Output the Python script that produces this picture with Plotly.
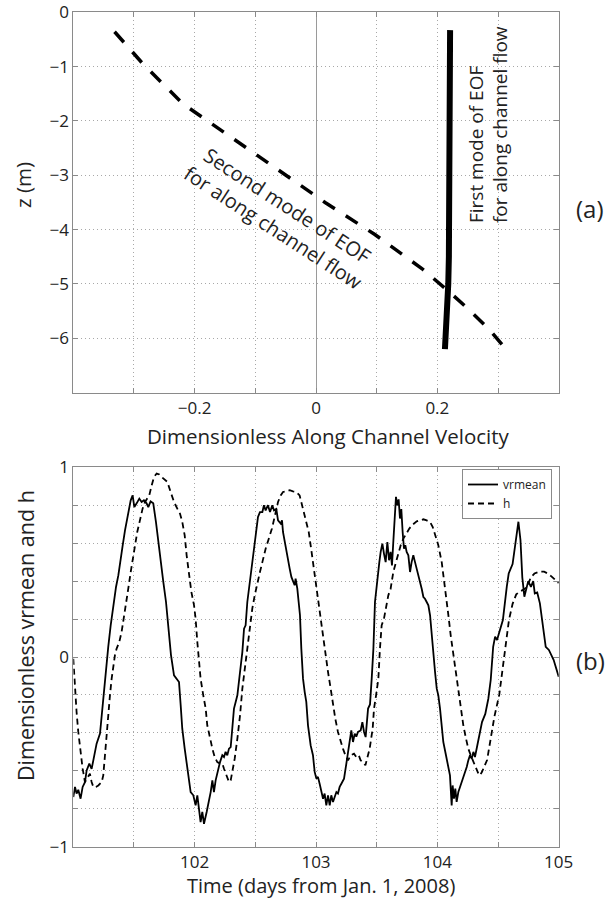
import plotly.graph_objects as go

# ---------------- data: panel (a) EOF modes ----------------
mode1_x = [0.221, 0.221, 0.2205, 0.2200, 0.2195, 0.2190, 0.2180, 0.2160, 0.2135, 0.2125]
mode1_z = [-0.33, -1.0, -2.0, -3.0, -4.0, -4.5, -5.0, -5.5, -6.0, -6.2]

mode2_x = [-0.332, -0.286, -0.220, -0.143, -0.063, 0.015, 0.097, 0.175, 0.215, 0.250, 0.285, 0.311]
mode2_z = [-0.36, -0.94, -1.68, -2.28, -2.90, -3.50, -4.09, -4.72, -5.10, -5.45, -5.83, -6.17]

# ---------------- data: panel (b) time series ----------------
vr_t = [101.000, 101.014, 101.027, 101.041, 101.060, 101.077, 101.096, 101.110, 101.132, 101.151,
        101.165, 101.179, 101.192, 101.220, 101.234, 101.247, 101.269, 101.288, 101.308, 101.330,
        101.352, 101.371, 101.385, 101.407, 101.426, 101.453, 101.473, 101.489, 101.503, 101.522,
        101.544, 101.563, 101.582, 101.604, 101.618, 101.637, 101.659, 101.681, 101.701, 101.720,
        101.742, 101.764, 101.783, 101.805, 101.830, 101.852, 101.871, 101.885, 101.898, 101.918,
        101.940, 101.953, 101.967, 101.989, 102.008, 102.022, 102.036, 102.049, 102.063, 102.077,
        102.099, 102.118, 102.132, 102.146, 102.159, 102.173, 102.187, 102.209, 102.228, 102.242,
        102.255, 102.269, 102.283, 102.297, 102.310, 102.324, 102.338, 102.352, 102.374, 102.393,
        102.407, 102.420, 102.434, 102.448, 102.467, 102.484, 102.503, 102.522, 102.538, 102.558,
        102.571, 102.585, 102.604, 102.621, 102.640, 102.654, 102.673, 102.687, 102.709, 102.720,
        102.728, 102.742, 102.755, 102.769, 102.783, 102.797, 102.810, 102.824, 102.832, 102.846,
        102.857, 102.868, 102.879, 102.893, 102.907, 102.920, 102.934, 102.956, 102.975, 102.989,
        103.003, 103.016, 103.030, 103.044, 103.058, 103.071, 103.085, 103.099, 103.113, 103.126,
        103.140, 103.154, 103.168, 103.181, 103.195, 103.209, 103.231, 103.250, 103.264, 103.277,
        103.291, 103.305, 103.319, 103.332, 103.346, 103.368, 103.382, 103.396, 103.409, 103.429,
        103.445, 103.459, 103.473, 103.486, 103.505, 103.522, 103.533, 103.547, 103.560, 103.574,
        103.588, 103.602, 103.615, 103.626, 103.637, 103.648, 103.659, 103.670, 103.681, 103.692,
        103.703, 103.714, 103.725, 103.736, 103.747, 103.761, 103.775, 103.788, 103.802, 103.816,
        103.830, 103.843, 103.857, 103.871, 103.885, 103.898, 103.912, 103.926, 103.940, 103.953,
        103.967, 103.981, 103.995, 104.008, 104.022, 104.036, 104.049, 104.071, 104.091, 104.104,
        104.118, 104.126, 104.137, 104.148, 104.159, 104.173, 104.187, 104.201, 104.214, 104.228,
        104.242, 104.255, 104.269, 104.283, 104.297, 104.310, 104.324, 104.338, 104.352, 104.368,
        104.395, 104.420, 104.440, 104.460, 104.476, 104.492, 104.508, 104.540, 104.572, 104.588,
        104.620, 104.652, 104.668, 104.685, 104.700, 104.717, 104.733, 104.749, 104.771, 104.790,
        104.803, 104.823, 104.845, 104.861, 104.877, 104.893, 104.919, 104.942, 104.958, 105.000]
vr_v = [-0.738, -0.685, -0.720, -0.700, -0.747, -0.685, -0.660, -0.598, -0.562, -0.590,
        -0.545, -0.500, -0.457, -0.404, -0.308, -0.202, -0.060, 0.053, 0.167, 0.272,
        0.369, 0.430, 0.500, 0.589, 0.668, 0.764, 0.826, 0.852, 0.790, 0.810,
        0.835, 0.817, 0.826, 0.810, 0.790, 0.820, 0.810, 0.712, 0.606, 0.483,
        0.395, 0.290, 0.167, 0.010, -0.097, -0.114, -0.132, -0.255, -0.378, -0.483,
        -0.589, -0.668, -0.712, -0.729, -0.782, -0.729, -0.800, -0.870, -0.817, -0.879,
        -0.817, -0.764, -0.712, -0.650, -0.712, -0.650, -0.606, -0.554, -0.518, -0.527,
        -0.500, -0.518, -0.483, -0.475, -0.378, -0.272, -0.237, -0.202, -0.079, 0.026,
        0.149, 0.167, 0.290, 0.360, 0.466, 0.554, 0.641, 0.738, 0.764, 0.764,
        0.800, 0.773, 0.800, 0.764, 0.800, 0.773, 0.780, 0.720, 0.703, 0.720,
        0.659, 0.606, 0.571, 0.518, 0.466, 0.422, 0.404, 0.378, 0.413, 0.360,
        0.290, 0.220, 0.044, -0.114, -0.185, -0.237, -0.360, -0.466, -0.518, -0.606,
        -0.641, -0.632, -0.668, -0.712, -0.747, -0.720, -0.782, -0.729, -0.782, -0.729,
        -0.764, -0.738, -0.712, -0.720, -0.685, -0.668, -0.641, -0.562, -0.500, -0.430,
        -0.387, -0.448, -0.404, -0.420, -0.395, -0.387, -0.343, -0.395, -0.422, -0.272,
        -0.250, -0.114, 0.044, 0.290, 0.413, 0.500, 0.554, 0.598, 0.545, 0.500,
        0.606, 0.510, 0.554, 0.483, 0.606, 0.747, 0.844, 0.800, 0.831, 0.730,
        0.780, 0.659, 0.571, 0.589, 0.554, 0.536, 0.448, 0.500, 0.536, 0.500,
        0.466, 0.430, 0.395, 0.360, 0.316, 0.307, 0.290, 0.272, 0.220, 0.114,
        0.009, -0.079, -0.167, -0.202, -0.272, -0.378, -0.448, -0.518, -0.589, -0.624,
        -0.782, -0.677, -0.747, -0.694, -0.764, -0.712, -0.685, -0.659, -0.641, -0.615,
        -0.580, -0.545, -0.518, -0.536, -0.500, -0.527, -0.483, -0.430, -0.378, -0.343,
        -0.300, -0.220, -0.120, 0.054, 0.107, 0.090, 0.125, 0.195, 0.370, 0.440,
        0.490, 0.634, 0.713, 0.617, 0.420, 0.318, 0.353, 0.400, 0.370, 0.400,
        0.335, 0.340, 0.283, 0.213, 0.142, 0.054, 0.037, 0.002, -0.015, -0.104]

h_t = [101.000, 101.014, 101.027, 101.041, 101.060, 101.077, 101.096, 101.115, 101.137, 101.151,
       101.165, 101.187, 101.206, 101.234, 101.247, 101.261, 101.275, 101.288, 101.302, 101.316,
       101.330, 101.343, 101.357, 101.379, 101.398, 101.412, 101.434, 101.453, 101.473, 101.489,
       101.508, 101.527, 101.549, 101.571, 101.591, 101.610, 101.626, 101.646, 101.665, 101.687,
       101.709, 101.728, 101.775, 101.802, 101.830, 101.857, 101.879, 101.898, 101.918, 101.934,
       101.953, 101.973, 101.995, 102.008, 102.022, 102.036, 102.049, 102.071, 102.091, 102.104,
       102.126, 102.146, 102.165, 102.187, 102.209, 102.228, 102.242, 102.264, 102.283, 102.297,
       102.310, 102.330, 102.352, 102.374, 102.393, 102.412, 102.434, 102.456, 102.475, 102.495,
       102.516, 102.538, 102.558, 102.585, 102.637, 102.659, 102.687, 102.709, 102.728, 102.755,
       102.783, 102.810, 102.838, 102.865, 102.893, 102.920, 102.940, 102.956, 102.975, 102.995,
       103.016, 103.038, 103.058, 103.077, 103.099, 103.121, 103.140, 103.159, 103.181, 103.203,
       103.222, 103.242, 103.264, 103.286, 103.313, 103.332, 103.352, 103.368, 103.387, 103.407,
       103.429, 103.442, 103.467, 103.478, 103.495, 103.514, 103.527, 103.541, 103.560, 103.577,
       103.596, 103.615, 103.637, 103.659, 103.679, 103.698, 103.720, 103.742, 103.769, 103.797,
       103.830, 103.857, 103.885, 103.912, 103.940, 103.962, 103.981, 104.008, 104.036, 104.055,
       104.071, 104.091, 104.110, 104.132, 104.154, 104.173, 104.192, 104.214, 104.236, 104.255,
       104.275, 104.297, 104.319, 104.338, 104.352, 104.368, 104.410, 104.440, 104.470, 104.510,
       104.530, 104.550, 104.570, 104.590, 104.620, 104.650, 104.680, 104.710, 104.740, 104.770,
       104.800, 104.840, 104.880, 104.910, 104.940, 104.970, 105.000]
h_v = [-0.009, -0.167, -0.290, -0.395, -0.500, -0.589, -0.659, -0.641, -0.615, -0.659,
       -0.685, -0.685, -0.677, -0.659, -0.624, -0.518, -0.395, -0.308, -0.202, -0.114,
       -0.044, 0.009, 0.044, 0.079, 0.132, 0.185, 0.272, 0.360, 0.448, 0.518,
       0.589, 0.659, 0.720, 0.782, 0.817, 0.835, 0.852, 0.905, 0.949, 0.967,
       0.962, 0.949, 0.923, 0.870, 0.817, 0.782, 0.756, 0.712, 0.641, 0.536,
       0.430, 0.343, 0.272, 0.202, 0.079, -0.026, -0.114, -0.202, -0.272, -0.360,
       -0.430, -0.483, -0.527, -0.554, -0.562, -0.562, -0.589, -0.633, -0.659, -0.650,
       -0.606, -0.536, -0.430, -0.308, -0.167, -0.062, 0.044, 0.167, 0.255, 0.325,
       0.395, 0.448, 0.500, 0.571, 0.677, 0.747, 0.817, 0.852, 0.870, 0.873,
       0.879, 0.873, 0.870, 0.852, 0.782, 0.712, 0.659, 0.589, 0.500, 0.395,
       0.290, 0.185, 0.097, 0.009, -0.079, -0.167, -0.255, -0.325, -0.395, -0.448,
       -0.483, -0.518, -0.545, -0.518, -0.510, -0.527, -0.518, -0.545, -0.554, -0.571,
       -0.518, -0.483, -0.378, -0.272, -0.202, -0.114, 0.044, 0.167, 0.202, 0.272,
       0.325, 0.360, 0.448, 0.500, 0.554, 0.589, 0.624, 0.650, 0.677, 0.698,
       0.715, 0.720, 0.726, 0.720, 0.712, 0.685, 0.650, 0.589, 0.500, 0.413,
       0.325, 0.220, 0.114, 0.009, -0.097, -0.185, -0.272, -0.360, -0.430, -0.483,
       -0.518, -0.554, -0.589, -0.615, -0.624, -0.605, -0.543, -0.437, -0.315, -0.200,
       -0.100, 0.000, 0.100, 0.195, 0.280, 0.330, 0.345, 0.355, 0.370, 0.420,
       0.440, 0.450, 0.450, 0.440, 0.425, 0.405, 0.390]

# tick definitions
xa_vals = [-0.3, -0.2, -0.1, 0.0, 0.1, 0.2, 0.3]
xa_text = ["", "\u22120.2", "", "0", "", "0.2", ""]
ya_vals = [0, -1, -2, -3, -4, -5, -6, -7]
ya_text = ["0", "\u22121", "\u22122", "\u22123", "\u22124", "\u22125", "\u22126", ""]
xb_vals = [101.5, 102, 102.5, 103, 103.5, 104, 104.5, 105]
xb_text = ["", "102", "", "103", "", "104", "", "105"]
yb_vals = [-1, -0.8, -0.6, -0.4, -0.2, 0, 0.2, 0.4, 0.6, 0.8, 1]
yb_text = ["\u22121", "", "", "", "", "0", "", "", "", "", "1"]

W, H = 608, 901
FONT = "Open Sans"
AX = "#8a8a8a"
GRID = "#a8a8a8"

def px(x):
    return x / W

def py(y):
    return 1 - y / H

fig = go.Figure()

fig.add_trace(go.Scatter(x=mode2_x, y=mode2_z, mode="lines", xaxis="x", yaxis="y",
                         line=dict(color="black", width=3.5, dash="14px,13px"), showlegend=False))
fig.add_trace(go.Scatter(x=mode1_x, y=mode1_z, mode="lines", xaxis="x", yaxis="y",
                         line=dict(color="black", width=6), showlegend=False))

fig.add_trace(go.Scatter(x=vr_t, y=vr_v, mode="lines", name="vrmean", xaxis="x2", yaxis="y2",
                         line=dict(color="black", width=1.8)))
fig.add_trace(go.Scatter(x=h_t, y=h_v, mode="lines", name="h", xaxis="x2", yaxis="y2",
                         line=dict(color="black", width=1.8, dash="6px,4px")))

common = dict(showline=True, linecolor=AX, linewidth=1, mirror="ticks", ticks="inside",
              ticklen=5, tickcolor=AX, showgrid=True, gridcolor=GRID, griddash="1px,3px",
              gridwidth=1, automargin=False, tickfont=dict(family=FONT, size=17, color="#222"))

fig.update_layout(
    width=W, height=H, margin=dict(l=0, r=0, t=0, b=0, autoexpand=False),
    paper_bgcolor="white", plot_bgcolor="white",
    font=dict(family=FONT, color="#222"),
    xaxis=dict(domain=[px(73.3), px(558.7)], range=[-0.4, 0.4], anchor="y",
               tickvals=xa_vals, ticktext=xa_text, zeroline=True, zerolinecolor="#9a9a9a",
               zerolinewidth=1, **common),
    yaxis=dict(domain=[py(392.7), py(12.2)], range=[-7, 0], anchor="x",
               tickvals=ya_vals, ticktext=ya_text, zeroline=False, **common),
    xaxis2=dict(domain=[px(73.3), px(558.7)], range=[101, 105], anchor="y2",
                tickvals=xb_vals, ticktext=xb_text, zeroline=False, **common),
    yaxis2=dict(domain=[py(846.7), py(467.3)], range=[-1, 1], anchor="x2",
                tickvals=yb_vals, ticktext=yb_text, zeroline=False, **common),
    legend=dict(x=px(552), y=py(469), xanchor="right", yanchor="top",
                bgcolor="white", bordercolor=AX, borderwidth=1,
                font=dict(family=FONT, size=12, color="#222"),
                itemwidth=30, tracegroupgap=0),
)

def note(text, x, y, size, angle=0, ref="paper", align="center"):
    return dict(text=text, x=x, y=y, xref=ref if ref == "paper" else "x",
                yref=ref if ref == "paper" else "y", textangle=angle, align=align,
                xanchor="center", yanchor="middle", showarrow=False,
                font=dict(family=FONT, size=size, color="#222"))

ann = [
    note("z (m)", px(23), py(185), 20.5, -90),
    note("Dimensionless Along Channel Velocity", px(328), py(436), 20.5),
    note("Dimensionless vrmean and h", px(25), py(636), 21.5, -90),
    note("Time (days from Jan. 1, 2008)", px(321), py(885), 20),
    note("(a)", px(590), py(208), 24),
    note("(b)", px(590), py(660), 24),
    note("Second mode of EOF<br>for along channel flow", -0.059, -3.75, 20, 33, ref="data"),
    note("First mode of EOF<br>for along channel flow", 0.284, -2.07, 19, -90, ref="data",
         align="left"),
]
fig.update_layout(annotations=ann)

fig.write_html("out.html", config={"displayModeBar": False},
               post_script="document.body.style.margin='0';")
